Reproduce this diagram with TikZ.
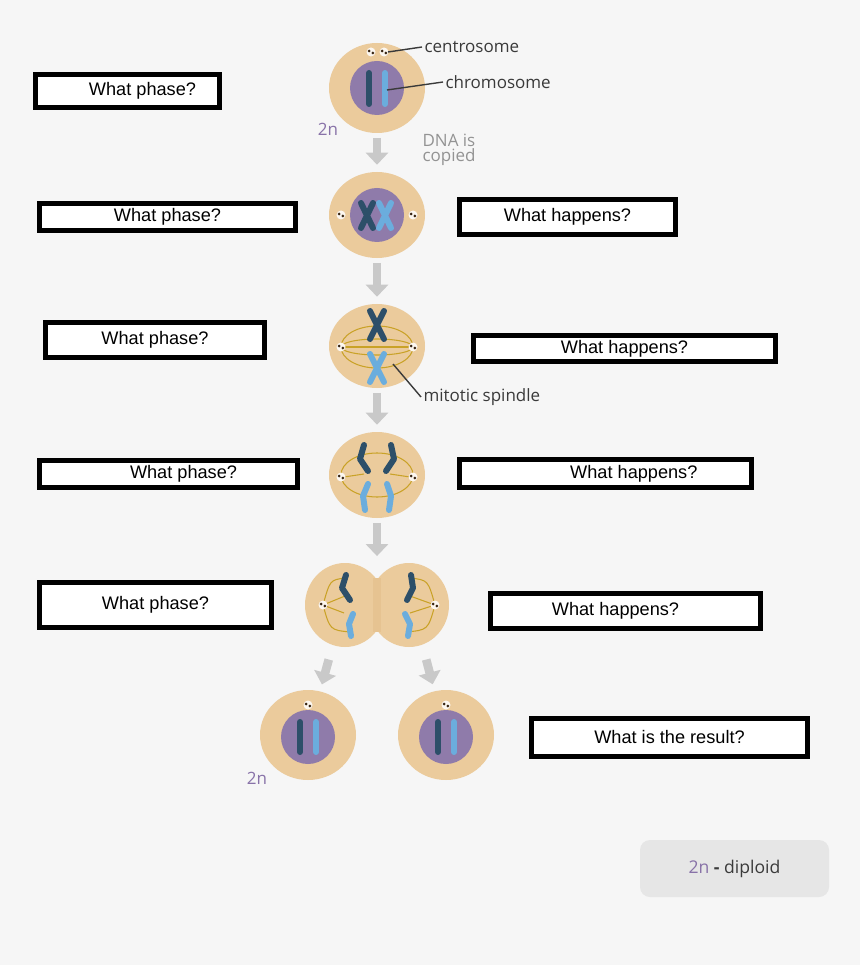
\documentclass[tikz,border=0pt]{standalone}
\usepackage{fontspec}
\setmainfont{Liberation Sans}
\newfontfamily\labelfont{Open Sans}
\usetikzlibrary{arrows.meta, shapes.geometric, calc}

\definecolor{bgcol}{HTML}{F6F6F6}
\definecolor{cellcol}{HTML}{EBCB9C}
\definecolor{furrowcol}{HTML}{E6C391}
\definecolor{nuccol}{HTML}{8F7BAA}
\definecolor{darkchrom}{HTML}{2D4F69}
\definecolor{lightchrom}{HTML}{6BADDD}
\definecolor{spindlecol}{HTML}{C9A227}
\definecolor{arrowcol}{HTML}{C9C9C9}
\definecolor{twoncol}{HTML}{8872A8}
\definecolor{keycol}{HTML}{E6E6E6}
\definecolor{labelcol}{HTML}{3A3A3A}

\newcommand{\centro}[1]{%
  \fill[white!85!cellcol] (#1) circle [radius=4.5];
  \fill[black!70!brown] ($(#1)+(-1.8,-1)$) circle [radius=1.5];
  \fill[black!70!brown] ($(#1)+(1.8,1)$) circle [radius=1.5];}

\begin{document}
\begin{tikzpicture}[x=0.03cm, y=-0.03cm,
    qbox/.style = {draw=black, line width=0.15cm, fill=white,
        inner sep=0pt, font=\fontsize{15.5}{18}\selectfont},
    cell/.style = {ellipse, fill=cellcol, inner sep=0pt},
    nucleus/.style = {circle, fill=nuccol, minimum size=1.62cm, inner sep=0pt},
    chrom/.style = {line width=0.18cm, line cap=round, line join=round},
    spindle/.style = {draw=spindlecol, line width=0.9pt},
    phasearrow/.style = {draw=arrowcol, line width=0.26cm,
        -{Triangle[length=0.36cm, width=0.66cm]}, shorten <=4pt, shorten >=6pt},
    tag/.style = {font=\labelfont\fontsize{14.5}{16}\selectfont, text=labelcol, inner sep=2pt},
    twon/.style = {font=\labelfont\fontsize{14.5}{16}\selectfont, text=twoncol}]

\useasboundingbox[fill=bgcol] (0,0) rectangle (860,965);

% Cells
\node (c1) [cell, minimum width=2.88cm, minimum height=2.7cm] at (377,88) {};
\node (c2) [cell, minimum width=2.88cm, minimum height=2.58cm] at (377,215) {};
\node (c3) [cell, minimum width=2.88cm, minimum height=2.52cm] at (377,346) {};
\node (c4) [cell, minimum width=2.88cm, minimum height=2.58cm] at (377,475) {};
\fill[cellcol] (345,605) ellipse [x radius=40, y radius=42];
\fill[cellcol] (409,605) ellipse [x radius=40, y radius=42];
\fill[furrowcol] (373,578) rectangle (381,632);
\node (c5) [inner sep=0pt, minimum width=4.3cm, minimum height=2.5cm] at (377,605) {};
\node (c6) [cell, minimum width=2.88cm, minimum height=2.7cm] at (308,735) {};
\node (c7) [cell, minimum width=2.88cm, minimum height=2.7cm] at (446,735) {};

% Nuclei
\node (n1) [nucleus] at (377,88) {};
\node (n2) [nucleus] at (377,215) {};
\node (n6) [nucleus] at (308,737) {};
\node (n7) [nucleus] at (446,737) {};

% Chromosomes
\draw[chrom, darkchrom] (369,73) -- (369,104);
\draw[chrom, lightchrom] (385,73) -- (385,104);
\draw[chrom, darkchrom] (361,203) -- (373,228) (373,203) -- (361,228);
\draw[chrom, lightchrom] (379,203) -- (391,228) (391,203) -- (379,228);
\draw[chrom, darkchrom] (300,722) -- (300,752);
\draw[chrom, lightchrom] (316,722) -- (316,752);
\draw[chrom, darkchrom] (438,722) -- (438,752);
\draw[chrom, lightchrom] (454,722) -- (454,752);

% Spindles
\draw[spindle] (377,347) ellipse [x radius=36, y radius=21];
\draw[spindle] (377,347) ellipse [x radius=36, y radius=8];
\draw[spindle] (344,347) -- (410,347);
\draw[spindle] (377,475) ellipse [x radius=36, y radius=22];
\draw[spindle] (344,477) -- (364,474) (390,474) -- (410,477);
\draw[spindle] (323,605) .. controls (330,580) .. (345,578)
               (323,605) .. controls (330,630) .. (350,632)
               (323,605) -- (345,596) (323,605) -- (344,613);
\draw[spindle] (435,605) .. controls (428,580) .. (410,578)
               (435,605) .. controls (428,630) .. (406,632)
               (435,605) -- (410,596) (435,605) -- (410,613);
\draw[chrom, darkchrom] (370,311) -- (384,339) (384,311) -- (370,339);
\draw[chrom, lightchrom] (370,354) -- (384,382) (384,354) -- (370,382);
\draw[chrom, darkchrom] (364,445) -- (360,459) -- (368,471)
                        (391,445) -- (394,459) -- (386,471);
\draw[chrom, lightchrom] (368,484) -- (363,496) -- (365,510)
                         (387,484) -- (391,496) -- (389,510);
\draw[chrom, darkchrom] (346,575) -- (342,588) -- (350,600)
                        (411,575) -- (413,588) -- (407,600);
\draw[chrom, lightchrom] (353,614) -- (349,624) -- (351,636)
                         (405,614) -- (410,624) -- (408,636);

% Centrosomes
\centro{371,52} \centro{384,52}
\centro{341,215} \centro{413,215}
\centro{341,347} \centro{413,347}
\centro{341,477} \centro{413,477}
\centro{323,605} \centro{435,605}
\centro{308,705} \centro{446,705}

% Labels
\node (cslab) [tag, anchor=west] at (422,47) {centrosome};
\node (chlab) [tag, anchor=west] at (443,82) {chromosome};
\node (splab) [tag, anchor=west] at (421,397) {mitotic spindle};
\node (dna) [tag, anchor=north west, text=gray!85, align=left] at (420,131)
    {DNA is\\[-3pt]copied};
\coordinate (csp) at (388,52);
\coordinate (chp) at (387,90);
\coordinate (spp) at (393,364);
\draw[labelcol, line width=1.2pt] (csp) -- (cslab.west);
\draw[labelcol, line width=1.2pt] (chp) -- (chlab.west);
\draw[labelcol, line width=1.2pt] (spp) -- (splab.west);
\node (two1) [twon] at (328,129) {2n};
\node (two2) [twon] at (257,778) {2n};

% Arrows
\coordinate (s6) at (330,655);
\coordinate (s7) at (425,655);
\draw[phasearrow] (c1) -- (c2);
\draw[phasearrow] (c2) -- (c3);
\draw[phasearrow] (c3) -- (c4);
\draw[phasearrow] (c4) -- (c5);
\draw[phasearrow] (s6) -- (c6);
\draw[phasearrow] (s7) -- (c7);

% Question boxes
\node (p1) [qbox, minimum width=5.52cm, minimum height=0.99cm] at (127.5,91) {\hspace{0.9cm}What phase?};
\node (p2) [qbox, minimum width=7.68cm, minimum height=0.81cm] at (167.5,217) {What phase?};
\node (p3) [qbox, minimum width=6.57cm, minimum height=1.05cm] at (155,340) {What phase?};
\node (p4) [qbox, minimum width=7.74cm, minimum height=0.81cm] at (168.5,474) {\hspace{0.9cm}What phase?};
\node (p5) [qbox, minimum width=6.96cm, minimum height=1.35cm] at (155.5,605) {What phase?};
\node (h1) [qbox, minimum width=6.48cm, minimum height=1.05cm] at (567.5,217) {What happens?};
\node (h2) [qbox, minimum width=9.06cm, minimum height=0.78cm] at (624.5,348.5) {What happens?};
\node (h3) [qbox, minimum width=8.76cm, minimum height=0.84cm] at (605.5,473.5) {\hspace{1.7cm}What happens?};
\node (h4) [qbox, minimum width=8.10cm, minimum height=1.05cm] at (625.5,611) {\hspace{-0.6cm}What happens?};
\node (res) [qbox, minimum width=8.28cm, minimum height=1.14cm] at (669.5,737.5) {What is the result?};

% Key
\node (key) [fill=keycol, rounded corners=0.3cm, minimum width=5.67cm, minimum height=1.71cm,
    font=\labelfont\fontsize{15}{16}\selectfont, text=labelcol] at (734.5,868.5)
    {\textcolor{twoncol}{2n} \textbf{-} diploid};
\end{tikzpicture}
\end{document}
